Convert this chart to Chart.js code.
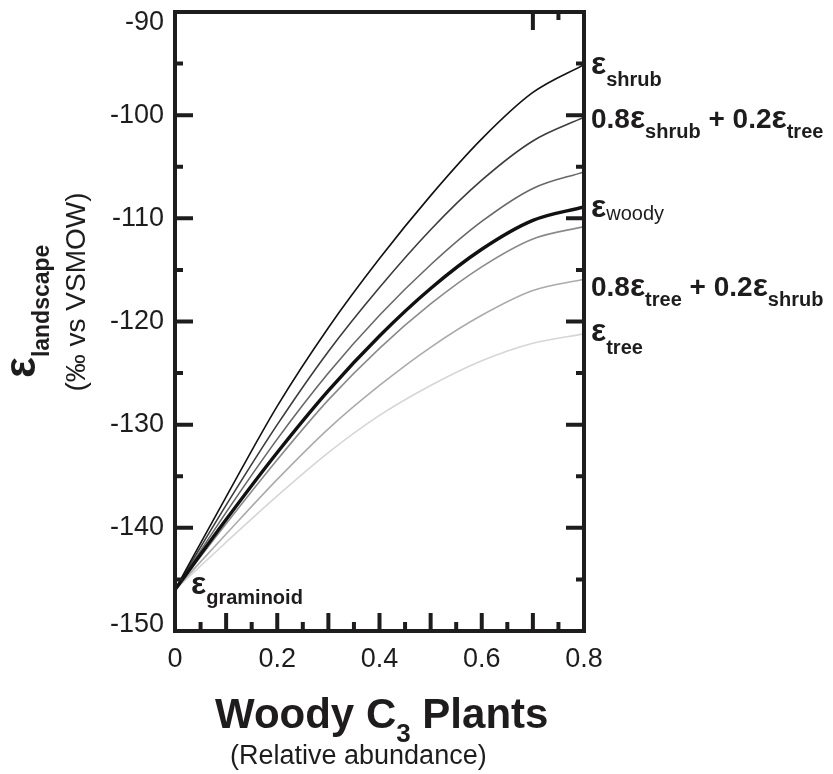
<!DOCTYPE html>
<html>
<head>
<meta charset="utf-8">
<script src="https://cdn.jsdelivr.net/npm/chart.js@4/dist/chart.umd.min.js"></script>
<style>
  body { margin: 0; background: #fff; }
</style>
</head>
<body>
<canvas id="chart" width="833" height="774"></canvas>
<script>
'use strict';

// woody C3 relative abundance
const woodyFraction = [0, 0.1, 0.2, 0.3, 0.4, 0.5, 0.6, 0.7, 0.8];

// epsilon landscape (per mil vs VSMOW)
const epsShrub     = [-146, -137.0, -128.2, -120.6, -113.9, -107.8, -102.3, -97.8, -95.1];
const epsShrubMix  = [-146, -137.8, -130.0, -122.9, -116.7, -111.1, -106.3, -102.5, -100.2];
const epsUpperMid  = [-146, -138.5, -131.4, -125.0, -119.4, -114.5, -110.3, -107.1, -105.5];
const epsWoody     = [-146, -139.2, -132.7, -126.7, -121.4, -116.8, -113.0, -110.2, -108.9];
const epsLowerMid  = [-146, -139.6, -133.4, -127.6, -122.6, -118.3, -114.7, -112.0, -110.8];
const epsTreeMix   = [-146, -140.6, -135.3, -130.4, -126.2, -122.5, -119.4, -117.0, -115.9];
const epsTree      = [-146, -141.4, -136.9, -132.7, -129.1, -126.2, -123.8, -122.1, -121.2];

const xTickValues = [0, 0.2, 0.4, 0.6, 0.8];
const xTickLabels = ['0', '0.2', '0.4', '0.6', '0.8'];
const yTickValues = [-90, -100, -110, -120, -130, -140, -150];
const yTickLabels = ['-90', '-100', '-110', '-120', '-130', '-140', '-150'];

const FONT = '"Liberation Sans", Arial, sans-serif';
const B = n => 'bold ' + n + 'px ' + FONT;
const R = n => n + 'px ' + FONT;
const INK = '#1f1c1d';

function points(values) {
    return woodyFraction.map((x, i) => ({x: x, y: values[i]}));
}

function line(values, color, width, order) {
    return {
        data: points(values),
        borderColor: color,
        borderWidth: width,
        pointRadius: 0,
        fill: false,
        cubicInterpolationMode: 'monotone',
        order: order || 0
    };
}

// draw a run of text pieces: [text, font, baseline shift]
function rich(ctx, x, y, parts) {
    ctx.textAlign = 'left';
    ctx.textBaseline = 'alphabetic';
    parts.forEach(function (p) {
        ctx.font = p[1];
        ctx.fillText(p[0], x, y + p[2]);
        x += ctx.measureText(p[0]).width;
    });
    return x;
}

const frame = {
    id: 'frame',
    afterDraw(chart) {
        const ctx = chart.ctx;
        const a = chart.chartArea;
        const xs = chart.scales.x;
        const ys = chart.scales.y;

        ctx.save();
        ctx.strokeStyle = INK;
        ctx.fillStyle = INK;
        ctx.lineWidth = 4;
        ctx.lineCap = 'butt';

        // box
        ctx.strokeRect(a.left, a.top, a.right - a.left, a.bottom - a.top);

        // y ticks, both sides, pointing in
        for (let v = -145; v <= -95; v += 5) {
            const py = ys.getPixelForValue(v);
            const len = v % 10 === 0 ? 18 : 8;
            ctx.beginPath();
            ctx.moveTo(a.left, py); ctx.lineTo(a.left + len, py);
            ctx.moveTo(a.right, py); ctx.lineTo(a.right - len, py);
            ctx.stroke();
        }
        // x ticks along the bottom
        for (let k = 1; k < 16; k++) {
            const px = xs.getPixelForValue(k * 0.05);
            const len = k % 2 === 0 ? 18 : 9;
            ctx.beginPath();
            ctx.moveTo(px, a.bottom); ctx.lineTo(px, a.bottom - len);
            ctx.stroke();
        }
        // the two stray ticks on top
        [[0.7, 18], [0.75, 8]].forEach(function (t) {
            const px = xs.getPixelForValue(t[0]);
            ctx.beginPath();
            ctx.moveTo(px, a.top); ctx.lineTo(px, a.top + t[1]);
            ctx.stroke();
        });

        // tick labels
        ctx.font = R(27);
        ctx.textAlign = 'right';
        ctx.textBaseline = 'middle';
        yTickValues.forEach(function (v, i) {
            let py = ys.getPixelForValue(v);
            py = Math.min(Math.max(py, a.top + 11), a.bottom - 6);
            ctx.fillText(yTickLabels[i], a.left - 11, py);
        });
        ctx.textAlign = 'center';
        ctx.textBaseline = 'alphabetic';
        xTickValues.forEach(function (v, i) {
            ctx.fillText(xTickLabels[i], xs.getPixelForValue(v), 667);
        });

        // curve labels
        rich(ctx, 591, 74, [['ε', B(32), 0], ['shrub', B(20), 12]]);
        rich(ctx, 591, 128, [['0.8', B(28), 0], ['ε', B(32), 0], ['shrub', B(20), 10],
            [' + ', B(28), 0], ['0.2', B(28), 0], ['ε', B(32), 0], ['tree', B(20), 10]]);
        rich(ctx, 591, 217, [['ε', B(32), 0], ['woody', R(20), 3]]);
        rich(ctx, 591, 296, [['0.8', B(28), 0], ['ε', B(32), 0], ['tree', B(20), 10],
            [' + ', B(28), 0], ['0.2', B(28), 0], ['ε', B(32), 0], ['shrub', B(20), 10]]);
        rich(ctx, 591, 341, [['ε', B(32), 0], ['tree', B(20), 13]]);
        rich(ctx, 191, 594, [['ε', B(32), 0], ['graminoid', B(20), 10]]);

        // x title
        rich(ctx, 215, 728, [['Woody C', B(42), 0], ['3', B(26), 14], [' Plants', B(42), 0]]);
        ctx.font = R(27);
        ctx.fillText('(Relative abundance)', 230, 764);

        // y title
        ctx.save();
        ctx.translate(35, 378);
        ctx.rotate(-Math.PI / 2);
        rich(ctx, 0, 0, [['ε', B(44), 0], ['landscape', B(23), 14]]);
        ctx.restore();
        ctx.save();
        ctx.translate(85, 292);
        ctx.rotate(-Math.PI / 2);
        ctx.font = R(28);
        ctx.textAlign = 'center';
        ctx.fillText('(‰ vs VSMOW)', 0, 0);
        ctx.restore();

        ctx.restore();
    }
};

new Chart(document.getElementById('chart'), {
    type: 'line',
    data: {
        datasets: [
            line(epsShrub, '#111111', 1.6),
            line(epsShrubMix, '#3c3c3c', 1.6),
            line(epsUpperMid, '#676767', 1.6),
            line(epsWoody, '#111111', 3.4, -1),
            line(epsLowerMid, '#8a8a8a', 1.6),
            line(epsTreeMix, '#ababab', 1.6),
            line(epsTree, '#d6d6d6', 1.6)
        ]
    },
    options: {
        responsive: false,
        animation: false,
        layout: {
            padding: {left: 175, top: 12, right: 249, bottom: 143}
        },
        scales: {
            x: {type: 'linear', min: 0, max: 0.8, display: false},
            y: {min: -150, max: -90, display: false}
        },
        plugins: {
            legend: {display: false},
            tooltip: {enabled: false}
        }
    },
    plugins: [frame]
});
</script>
</body>
</html>
